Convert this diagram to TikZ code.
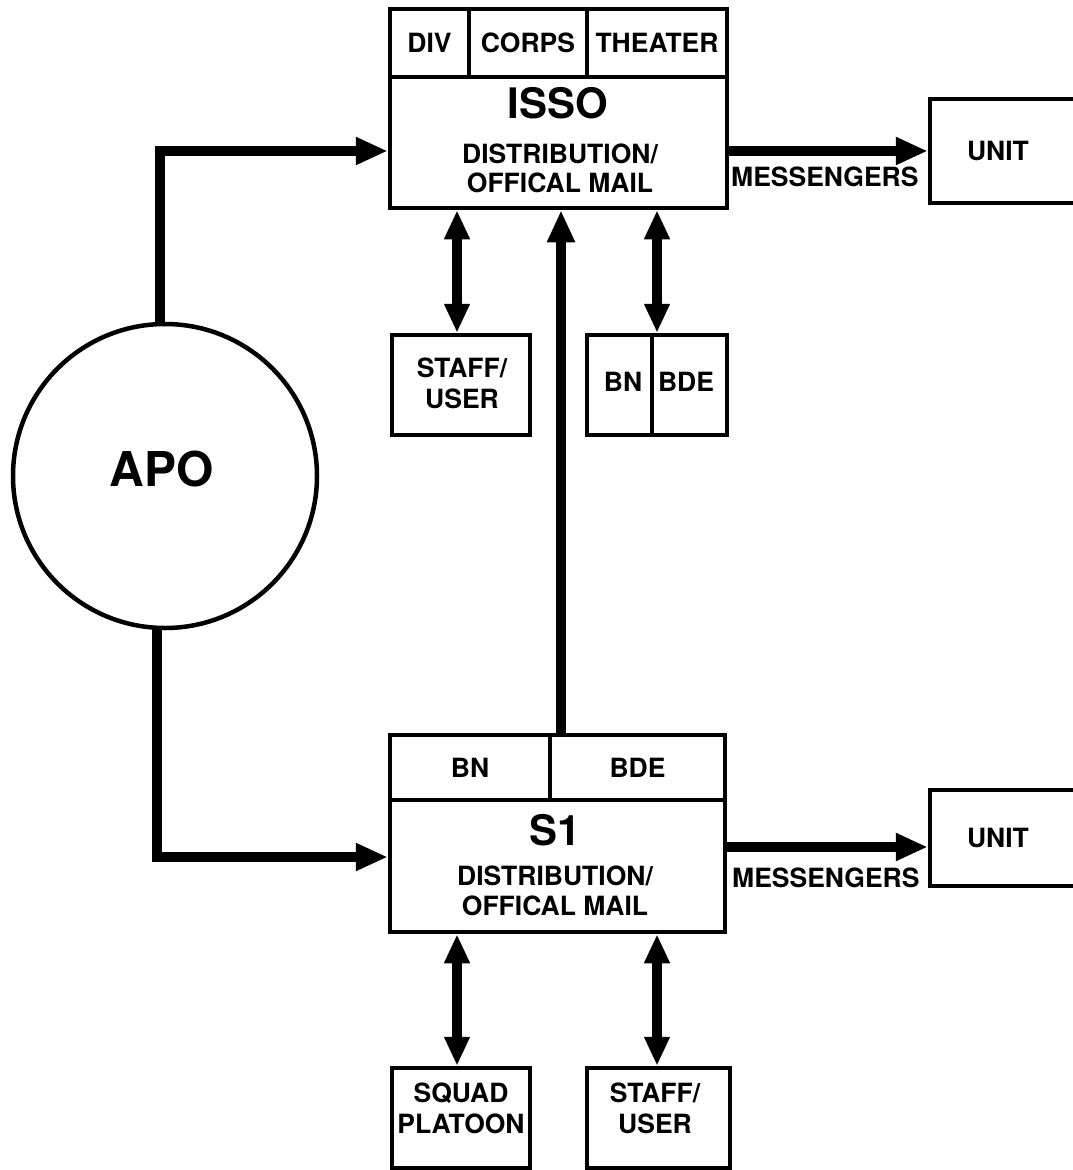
\documentclass[tikz,border=0pt]{standalone}
\usepackage{fontspec}
\setmainfont{TeX Gyre Heros}
\usetikzlibrary{arrows.meta}
\newcommand\fsm{\fontsize{26.5}{31}\selectfont\bfseries}
\newcommand\fbig{\fontsize{42}{44}\selectfont\bfseries}
\newcommand\fapo{\fontsize{48}{50}\selectfont\bfseries}
\begin{document}
\begin{tikzpicture}[x=1pt,y=-1pt,
  box/.style={draw, line width=4.5pt, inner sep=0pt, font=\fsm},
  txt/.style={inner sep=0pt, font=\fsm, align=center},
  conn/.style={line width=10pt, -{Triangle[length=32pt,width=26pt]}},
  dbl/.style={line width=10pt, {Triangle[length=29pt,width=24pt]}-{Triangle[length=29pt,width=24pt]}}]
\useasboundingbox[fill=white] (0,0) rectangle (1072,1170);
% ISSO block
\node[box, minimum width=79pt, minimum height=68pt] (div) at (429.5,43) {DIV};
\node[box, minimum width=118pt, minimum height=68pt] (corps) at (528,43) {CORPS};
\node[box, minimum width=140pt, minimum height=68pt] (theater) at (657,43) {THEATER};
\node[box, minimum width=337pt, minimum height=131pt] (isso) at (558.5,142.5) {};
\node[txt, font=\fbig, anchor=base] (issoname) at (558,118) {ISSO};
\node[txt, anchor=base] (issodist) at (560,163) {DISTRIBUTION/};
\node[txt, anchor=base] (issomail) at (560,192) {OFFICAL MAIL};
% units
\node[box, minimum width=146pt, minimum height=104pt] (unit1) at (1003,151) {UNIT\hspace*{10pt}};
\node[box, minimum width=146pt, minimum height=96pt] (unit2) at (1003,838) {UNIT\hspace*{10pt}};
\node[txt, anchor=west] (mess1) at (731,177) {MESSENGERS};
\node[txt, anchor=west] (mess2) at (732,878) {MESSENGERS};
% APO
\node[circle, draw, line width=4.5pt, minimum size=304pt, inner sep=0pt] (apo) at (165,476) {};
\node[txt, font=\fapo, anchor=base] (apotext) at (162,486) {APO};
% upper small boxes
\node[box, minimum width=138pt, minimum height=100pt] (staff1) at (461,385) {};
\node[txt] (staff1t) at (462,383) {STAFF/\\USER};
\node[box, minimum width=65pt, minimum height=100pt] (bn1) at (619.5,385) {};
\node[txt] (bn1t) at (623,382) {BN};
\node[box, minimum width=75pt, minimum height=100pt] (bde1) at (689.5,385) {};
\node[txt] (bde1t) at (686,382) {BDE};
% S1 block
\node[box, minimum width=160pt, minimum height=65pt] (bn2) at (470,767.5) {BN};
\node[box, minimum width=175pt, minimum height=65pt] (bde2) at (637.5,767.5) {BDE};
\node[box, minimum width=335pt, minimum height=132pt] (s1) at (557.5,866) {};
\node[txt, font=\fbig, anchor=base] (s1name) at (555,845) {S1};
\node[txt, anchor=base] (s1dist) at (555,885) {DISTRIBUTION/};
\node[txt, anchor=base] (s1mail) at (555,915) {OFFICAL MAIL};
% lower small boxes
\node[box, minimum width=138pt, minimum height=100pt] (squad) at (461,1118) {};
\node[txt] (squadt) at (461,1108) {SQUAD\\PLATOON};
\node[box, minimum width=143pt, minimum height=100pt] (staff2) at (658.5,1118) {};
\node[txt] (staff2t) at (655,1108) {STAFF/\\USER};
% helper coordinates
\coordinate (ya) at (0,151);
\coordinate (yb) at (0,857);
\coordinate (yc) at (0,847);
\coordinate (xm) at (561,0);
\coordinate (xl) at (457,0);
\coordinate (xr) at (657,0);
% connectors
\draw[conn] (apo.92.6) |- (isso.west |- ya);
\draw[conn] (apo.267.4) |- (s1.west |- yb);
\draw[conn] (isso.east |- unit1) -- (unit1.west);
\draw[conn] (s1.east |- yc) -- (unit2.west |- yc);
\draw[conn] (bde2.north -| xm) -- (isso.south -| xm);
\draw[dbl] (isso.south -| xl) -- (staff1.north -| xl);
\draw[dbl] (isso.south -| xr) -- (bde1.north -| xr);
\draw[dbl] (s1.south -| xl) -- (squad.north -| xl);
\draw[dbl] (s1.south -| xr) -- (staff2.north -| xr);
\end{tikzpicture}
\end{document}
